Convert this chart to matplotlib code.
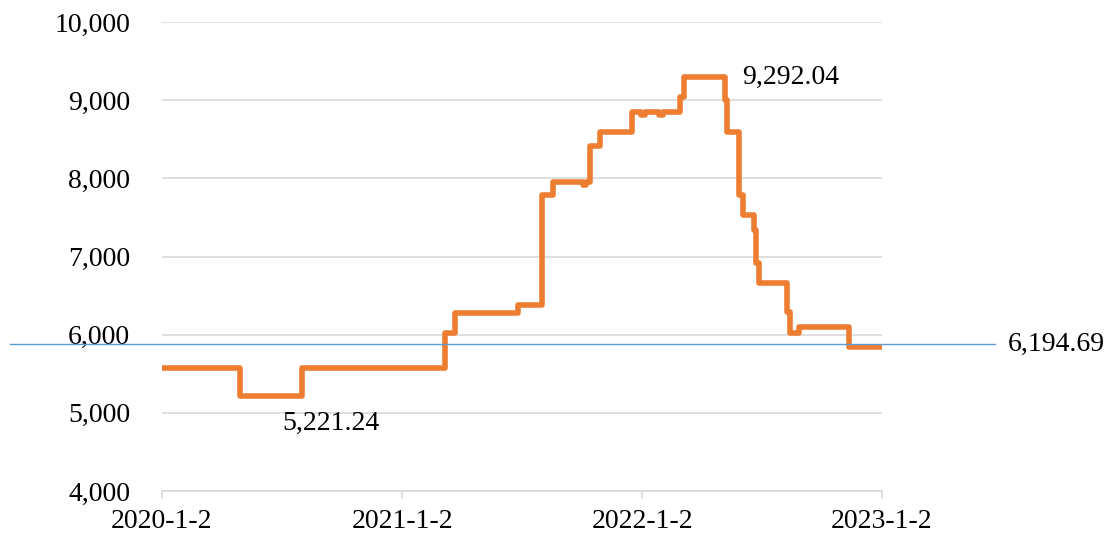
import matplotlib
matplotlib.use("Agg")
import matplotlib.pyplot as plt
import matplotlib.dates as mdates
import matplotlib.transforms as mtransforms
import numpy as np

# step dates and closing levels (held until the next date)
dates = np.array([
    "2020-01-02", "2020-04-30", "2020-08-02", "2021-03-08", "2021-03-23",
    "2021-06-27", "2021-08-02", "2021-08-19", "2021-10-04", "2021-10-09",
    "2021-10-14", "2021-10-30", "2021-12-17", "2021-12-31", "2022-01-06",
    "2022-01-28", "2022-02-03", "2022-02-28", "2022-03-06", "2022-05-08",
    "2022-05-11", "2022-05-29", "2022-06-05", "2022-06-21", "2022-06-25",
    "2022-06-29", "2022-08-11", "2022-08-15", "2022-08-29", "2022-11-13",
    "2023-01-02",
], dtype="datetime64[D]")
values = [
    5574, 5221.24, 5574, 6020, 6277,
    6380, 7787, 7953, 7920, 7953,
    8414, 8590, 8849, 8810, 8849,
    8810, 8849, 9041, 9292.04, 9000,
    8593, 7787, 7531, 7340, 6917,
    6661, 6290, 6022, 6100, 5842,
    5842,
]

ref_level = 5880
ref_label = "6,194.69"
peak_label = "9,292.04"
low_label = "5,221.24"

yticks = [4000, 5000, 6000, 7000, 8000, 9000, 10000]
xticks = np.array(["2020-01-02", "2021-01-02", "2022-01-02", "2023-01-02"], dtype="datetime64[D]")
xlabels = ["2020-1-2", "2021-1-2", "2022-1-2", "2023-1-2"]

plt.rcParams["font.family"] = ["Liberation Serif", "DejaVu Serif"]

fig = plt.figure(figsize=(11.14, 5.40), dpi=100)
ax = fig.add_axes([0.1454, 0.0907, 0.6463, 0.8685])

x = mdates.date2num(dates.astype("datetime64[s]").astype(object))
ax.step(x, values, where="post", color="#ED7D31", lw=4.0, solid_joinstyle="round",
        solid_capstyle="round", zorder=3)

ax.set_ylim(4000, 10000)
xt = mdates.date2num(xticks.astype("datetime64[s]").astype(object))
ax.set_xlim(xt[0], xt[-1])
ax.set_yticks(yticks)
ax.set_yticklabels([f"{v:,}" for v in yticks], fontsize=20)
ax.set_xticks(xt)
ax.set_xticklabels(xlabels, fontsize=20)

ax.grid(axis="y", color="#D9D9D9", lw=1.2)
ax.set_axisbelow(True)
for s in ["top", "right", "left"]:
    ax.spines[s].set_visible(False)
ax.spines["bottom"].set_color("#D9D9D9")
ax.spines["bottom"].set_linewidth(1.2)
ax.tick_params(axis="y", length=0, pad=23)
ax.tick_params(axis="x", length=6, color="#D9D9D9", width=1.2, pad=7)

# reference line running past the plot area
trans = mtransforms.blended_transform_factory(ax.transAxes, ax.transData)
ax.plot([-0.211, 1.157], [ref_level, ref_level], transform=trans, color="#5B9BD5",
        lw=1.0, clip_on=False, zorder=4)
ax.text(1.175, ref_level, ref_label, transform=trans, fontsize=20, va="center", ha="left")

ax.annotate(peak_label, (x[18], 9292.04), xytext=(42, 0), textcoords="offset points",
            fontsize=20, va="center", ha="left")
ax.annotate(low_label, (x[1], 5221.24), xytext=(65, -20), textcoords="offset points",
            fontsize=20, va="center", ha="center")

fig.savefig("out.png", dpi=100)
